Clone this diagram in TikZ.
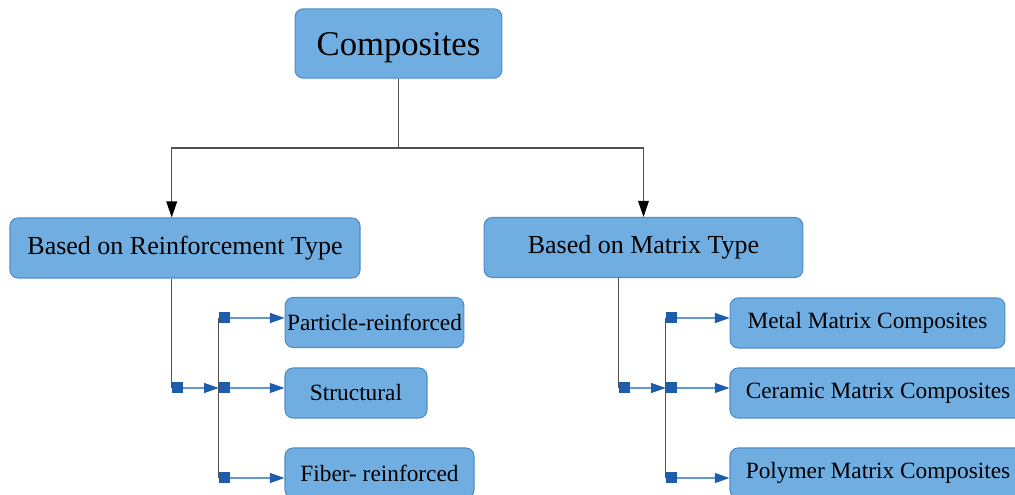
\documentclass[tikz,border=0pt]{standalone}
\usepackage{fontspec}
\setmainfont{Liberation Serif}
\definecolor{boxfill}{RGB}{112,173,224}
\definecolor{boxedge}{RGB}{80,140,200}
\definecolor{joint}{RGB}{30,92,172}
\definecolor{wire}{RGB}{100,150,210}
\definecolor{trunk}{RGB}{80,80,85}
\usetikzlibrary{arrows.meta}

\begin{document}
\begin{tikzpicture}[x=0.75pt,y=-0.75pt,
    box/.style={draw=boxedge,fill=boxfill,rounded corners=6pt,line width=0.8pt,inner sep=0pt},
    big/.style={box,font=\fontsize{26}{30}\selectfont,text height=24pt,text depth=5.7pt},
    mid/.style={box,font=\fontsize{19.5}{23}\selectfont,minimum height=45pt},
    leaf/.style={box,font=\fontsize{17.5}{21}\selectfont,minimum height=37.5pt},
    tree/.style={draw=trunk,line width=0.9pt},
    down/.style={tree,-{Triangle[length=12pt,width=8pt,color=black]}},
    dot/.style={fill=joint,minimum size=8.25pt,inner sep=0pt},
    link/.style={draw=wire,line width=0.9pt,-{Triangle[length=11pt,width=7.5pt,color=joint]}}]
  \useasboundingbox (0,0) rectangle (1015,495);
  \clip (0,0) rectangle (1015,495);

  % boxes
  \node[big,minimum width=155pt,minimum height=52pt] (comp) at (398.5,43.5) {Composites};
  \node[mid,minimum width=262.5pt] (reinf) at (185,248) {Based on Reinforcement Type};
  \node[mid,minimum width=239pt] (matrix) at (643.5,247.5) {Based on Matrix Type};

  \node[leaf,minimum width=134pt] (part) at (374.5,322.5) {Particle-reinforced};
  \node[leaf,minimum width=106.5pt] (struc) at (356,393) {Structural};
  \node[leaf,minimum width=141.75pt] (fibre) at (379.5,473) {Fiber- reinforced};

  \node[leaf,minimum width=206pt] (metal) at (867.5,323) {Metal Matrix Composites};
  \node[leaf,minimum width=222pt] (ceram) at (878,393) {Ceramic Matrix Composites};
  \node[leaf,minimum width=222pt] (poly) at (878,473) {Polymer Matrix Composites};

  % joints
  \node[dot] (rj) at (177.5,388) {};
  \node[dot] (r1) at (224.5,318) {};
  \node[dot] (r2) at (224.5,388) {};
  \node[dot] (r3) at (224.5,478) {};
  \node[dot] (mj) at (624,388) {};
  \node[dot] (m1) at (671.5,318) {};
  \node[dot] (m2) at (671.5,388) {};
  \node[dot] (m3) at (671.5,478) {};

  % top split
  \coordinate (fork) at (398.5,148);
  \draw[tree] (comp.south) -- (fork);
  \draw[down] (fork) -| (reinf.north -| rj.west);
  \draw[down] (fork) -| (matrix.north);

  % branches
  \draw[tree] (reinf.south -| rj.west) -- (rj.west);
  \draw[tree] (matrix.south -| mj.west) -- (mj.west);
  \draw[tree] (r1.west) -- (r3.west);
  \draw[tree] (m1.west) -- (m3.west);
  \draw[link] (rj.east) -- (r2.west);
  \draw[link] (mj.east) -- (m2.west);
  \foreach \s/\t in {r1/part,r2/struc,r3/fibre,m1/metal,m2/ceram,m3/poly}
    \draw[link] (\s.east) -- (\s -| \t.west);
\end{tikzpicture}
\end{document}
